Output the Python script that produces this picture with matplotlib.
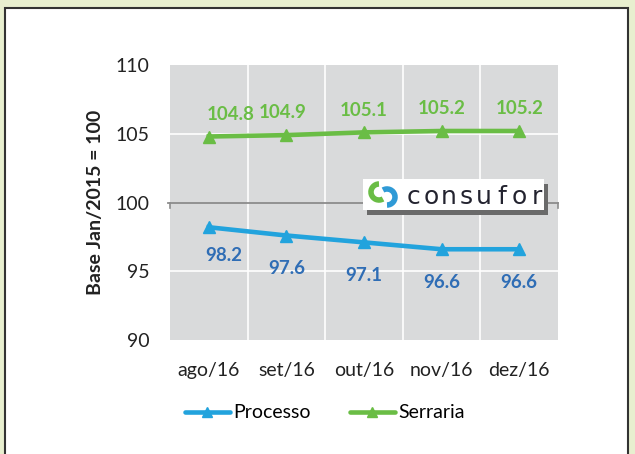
import matplotlib.pyplot as plt
from matplotlib.patches import Arc
from matplotlib.patches import Rectangle
from matplotlib.lines import Line2D

plt.rcParams["font.family"] = ["Lato", "DejaVu Sans"]

# data
meses = ["ago/16", "set/16", "out/16", "nov/16", "dez/16"]
processo = [98.2, 97.6, 97.1, 96.6, 96.6]
serraria = [104.8, 104.9, 105.1, 105.2, 105.2]

azul = "#22a3dd"
azul_txt = "#2f6db5"
verde = "#6abd45"

fig = plt.figure(figsize=(6.35, 4.54), dpi=100)
fig.patch.set_facecolor("#e8efcf")

# white panel with dark border
fig.patches.append(Rectangle((5 / 635, -0.05), 623 / 635, 1 - 8 / 454 + 0.05,
                             transform=fig.transFigure, facecolor="white",
                             edgecolor="#333333", linewidth=1.5, zorder=-1))

ax = fig.add_axes([170 / 635, 1 - 340 / 454, 388 / 635, 275 / 454])
ax.set_zorder(2)
ax.set_facecolor("#d9dadb")
x = list(range(len(meses)))

ax.set_xlim(-0.5, len(meses) - 0.5)
ax.set_ylim(90, 110)

# gridlines
for b in [0.5, 1.5, 2.5, 3.5]:
    ax.axvline(b, color="white", linewidth=1.2, zorder=1)
for yv in [95, 105]:
    ax.axhline(yv, color="white", linewidth=1.2, zorder=1)
ax.axhline(100, color="#8c8c8c", linewidth=1.3, zorder=2, clip_on=False,
           xmin=-0.005, xmax=1.0)
for xe in [-0.5, 4.5]:
    ax.plot([xe, xe], [100, 99.6], color="#8c8c8c", linewidth=1.2,
            clip_on=False, zorder=2)

ax.plot(x, processo, color=azul, linewidth=3.3, marker="^", markersize=9,
        zorder=3, label="Processo")
ax.plot(x, serraria, color=verde, linewidth=3.3, marker="^", markersize=9,
        zorder=3, label="Serraria")

for i, (xi, v) in enumerate(zip(x, processo)):
    dx = 11 if i == 0 else 0
    dy = -20 if i == 0 else -24
    ax.annotate(f"{v:.1f}", (xi, v), xytext=(dx, dy), textcoords="offset points",
                ha="center", va="center", color=azul_txt, fontsize=13.5,
                fontweight="bold")
for i, (xi, v) in enumerate(zip(x, serraria)):
    dx = 16 if i == 0 else (-3 if i == 1 else 0)
    ax.annotate(f"{v:.1f}", (xi, v), xytext=(dx, 16), textcoords="offset points",
                ha="center", va="center", color=verde, fontsize=13.5,
                fontweight="bold")

for s in ax.spines.values():
    s.set_visible(False)
ax.set_xticks(x)
ax.set_xticklabels(meses, fontsize=14)
ax.set_yticks([90, 95, 100, 105, 110])
ax.set_yticklabels(["90", "95", "100", "105", "110"], fontsize=14)
ax.tick_params(axis="both", length=0, colors="#222222")
ax.tick_params(axis="x", pad=16)
ax.tick_params(axis="y", pad=15)
ax.set_ylabel("Base Jan/2015 = 100", fontsize=14, fontweight="bold",
              color="#222222", labelpad=8)

# legend
leg = fig.legend(handles=[Line2D([], [], color=azul, lw=3.3, marker="^", markersize=7,
                                 solid_capstyle="round"),
                          Line2D([], [], color=verde, lw=3.3, marker="^", markersize=7,
                                 solid_capstyle="round")],
                 labels=["Processo", "Serraria"], loc="center",
                 bbox_to_anchor=(325 / 635, 1 - 413 / 454), ncol=2, frameon=False,
                 fontsize=14, handlelength=2.3, columnspacing=2.0, handletextpad=0.2)

# consufor logo
shadow = fig.add_axes([367 / 635, 1 - 215 / 454, 181 / 635, 31 / 454])
shadow.set_zorder(5)
shadow.set_facecolor("#6a6a6a")
shadow.set_xticks([])
shadow.set_yticks([])
for s in shadow.spines.values():
    s.set_visible(False)

lax = fig.add_axes([363 / 635, 1 - 210 / 454, 181 / 635, 31 / 454])
lax.set_zorder(6)
lax.set_xlim(0, 181)
lax.set_ylim(0, 31)
lax.set_facecolor("white")
lax.set_xticks([])
lax.set_yticks([])
for s in lax.spines.values():
    s.set_visible(False)
lax.add_patch(Arc((16, 18), 16, 16, theta1=90, theta2=300, color=verde, lw=4))
lax.add_patch(Arc((24, 13), 16, 16, theta1=270, theta2=120, color="#2f9ad6", lw=4))
for i, letra in enumerate("consufor"):
    lax.text(51 + i * 17.5, 13, letra, fontsize=18, color="#23232f", va="center",
             ha="center", fontfamily="DejaVu Sans")

fig.savefig("out.png", dpi=100, facecolor=fig.get_facecolor())
